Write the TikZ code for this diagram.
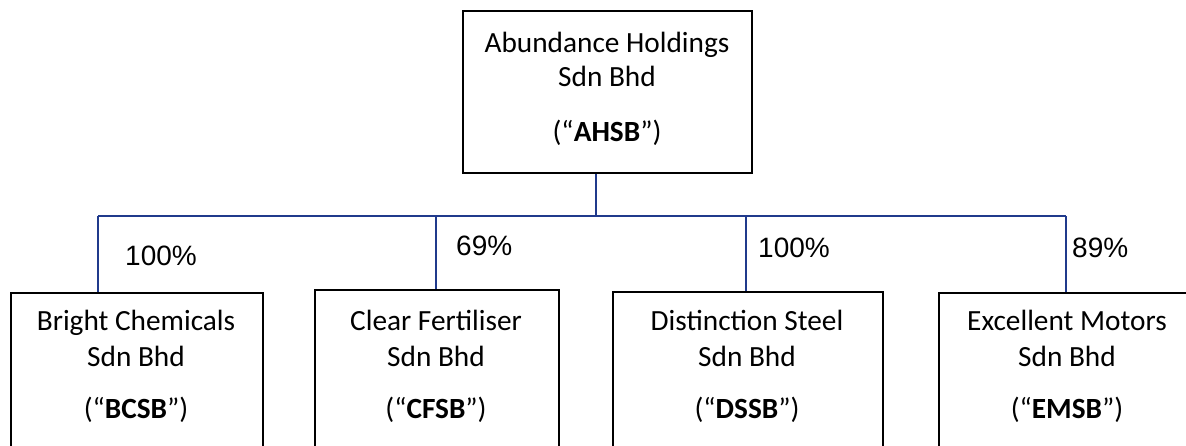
\documentclass[tikz,border=0pt]{standalone}
\usepackage{fontspec}
\setmainfont{Carlito}
\newfontfamily\pctfont{Liberation Sans}
\definecolor{linkblue}{RGB}{32,58,140}
\begin{document}
\begin{tikzpicture}[x=1pt,y=1pt,
  box/.style={draw=black,line width=2pt,anchor=north west,inner sep=0pt},
  txt/.style={anchor=base,inner sep=0pt,font=\fontsize{29.3}{34}\selectfont},
  pct/.style={anchor=base west,inner sep=0pt,font=\pctfont\fontsize{28}{34}\selectfont},
  link/.style={draw=linkblue,line width=2pt}]
\useasboundingbox (0,0) rectangle (1186,-445);
\clip (0,0) rectangle (1186,-445);
% boxes
\node[box,minimum width=289pt,minimum height=162pt] (ahsb) at (462,-10) {};
\node[box,minimum width=252pt,minimum height=200pt] (bcsb) at (10,-292) {};
\node[box,minimum width=244pt,minimum height=200pt] (cfsb) at (314,-289) {};
\node[box,minimum width=270pt,minimum height=200pt] (dssb) at (612,-291) {};
\node[box,minimum width=258pt,minimum height=200pt] (emsb) at (938,-292) {};
% texts
\node[txt] (t1) at (607,-52) {Abundance Holdings};
\node[txt] (t2) at (607,-86) {Sdn Bhd};
\node[txt] (t3) at (607,-141) {(“\textbf{AHSB}”)};
\node[txt] (b1) at (136,-330) {Bright Chemicals};
\node[txt] (b2) at (136,-366) {Sdn Bhd};
\node[txt] (b3) at (136,-418) {(“\textbf{BCSB}”)};
\node[txt] (c1) at (436,-330) {Clear Fertiliser};
\node[txt] (c2) at (436,-366) {Sdn Bhd};
\node[txt] (c3) at (436,-418) {(“\textbf{CFSB}”)};
\node[txt] (d1) at (747,-330) {Distinction Steel};
\node[txt] (d2) at (747,-366) {Sdn Bhd};
\node[txt] (d3) at (747,-418) {(“\textbf{DSSB}”)};
\node[txt] (e1) at (1067,-330) {Excellent Motors};
\node[txt] (e2) at (1067,-366) {Sdn Bhd};
\node[txt] (e3) at (1067,-418) {(“\textbf{EMSB}”)};
% connectors
\coordinate (hub) at (596,-216);
\coordinate (j1) at (98,-216);
\coordinate (j2) at (436,-216);
\coordinate (j3) at (746,-216);
\coordinate (j4) at (1066,-216);
\draw[link] (ahsb.south -| hub) -- (hub);
\draw[link] (j1) -- (j4);
\draw[link] (j1) -- (j1 |- bcsb.north);
\draw[link] (j2) -- (j2 |- cfsb.north);
\draw[link] (j3) -- (j3 |- dssb.north);
\draw[link] (j4) -- (j4 |- emsb.north);
% percentages
\node[pct] (p1) at (125,-265) {100\%};
\node[pct] (p2) at (456,-255) {69\%};
\node[pct] (p3) at (758,-257) {100\%};
\node[pct] (p4) at (1072,-257) {89\%};
\end{tikzpicture}
\end{document}
